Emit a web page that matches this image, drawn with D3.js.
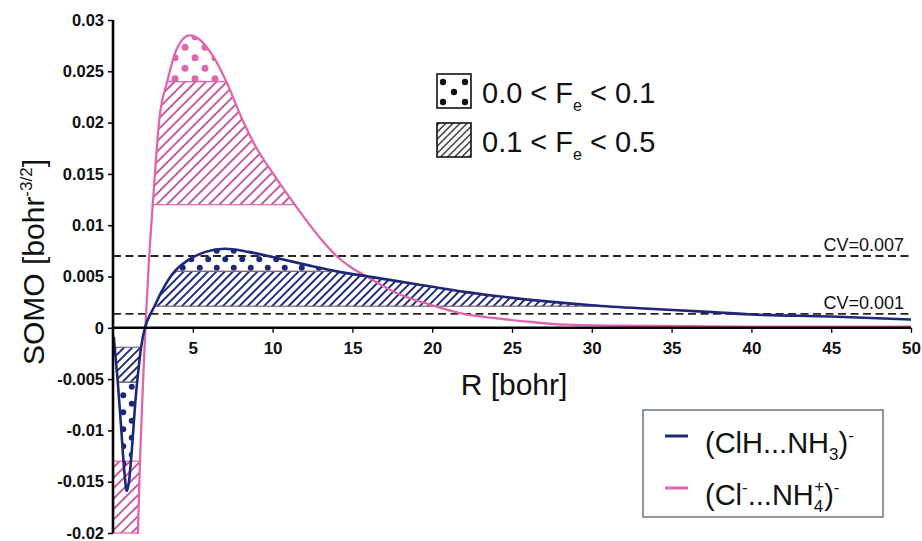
<!doctype html>
<html>
<head>
<meta charset="utf-8">
<title>SOMO plot</title>
<script src="https://cdn.jsdelivr.net/npm/d3@7"></script>
<style>
  body { margin: 0; background: #fff; }
  svg { font-family: "Liberation Sans", Arial, sans-serif; }
</style>
</head>
<body>
<div id="chart"></div>
<script>
// (ClH...NH3)- SOMO
var rBlue    = [0.05, 0.3, 0.5, 0.7, 0.86, 1.0, 1.2, 1.4, 1.6, 1.75, 2.0, 2.3, 2.6, 3.0, 3.7, 4.7, 5.8, 7.0, 8.5, 10, 12.5, 14, 16, 18, 20, 22, 24, 27, 30, 33, 36.7, 40, 45, 50];
var somoBlue = [-0.0009, -0.0053, -0.0095, -0.0138, -0.0159, -0.0150, -0.0115, -0.0072, -0.0040, -0.0020, 0.0, 0.0012, 0.0021, 0.0034, 0.0052, 0.0066, 0.0074, 0.0077, 0.0074, 0.0069, 0.0060, 0.0055, 0.0050, 0.0045, 0.0040, 0.0035, 0.0031, 0.0026, 0.0022, 0.0019, 0.0016, 0.0013, 0.0011, 0.0008];
// (Cl-...NH4+)- SOMO
var rPink    = [0, 1.3, 1.56, 1.69, 1.85, 2.03, 2.25, 2.5, 2.9, 3.4, 4.0, 4.8, 5.5, 6.3, 7.1, 8.1, 9.0, 10, 11.3, 12.1, 13, 14, 15, 15.9, 17.9, 20, 22.1, 24.2, 26, 28.4, 32, 40, 50];
var somoPink = [-0.05, -0.03, -0.02, -0.013, -0.0065, 0.0, 0.0065, 0.0122, 0.0203, 0.0240, 0.0272, 0.0285, 0.0280, 0.0264, 0.0240, 0.0203, 0.0175, 0.0151, 0.0122, 0.0105, 0.0087, 0.0070, 0.0058, 0.0050, 0.0033, 0.0022, 0.0013, 0.0009, 0.0006, 0.0003, 0.0002, 0.0001, 0.0001];

// Fe bands [lo, hi]
var fe01Blue = [[0.0055, 0.03], [-0.02, -0.0053]];   // 0.0 < Fe < 0.1
var fe05Blue = [[0.0021, 0.0055], [-0.0053, -0.0019]]; // 0.1 < Fe < 0.5
var fe01Pink = [[0.024, 0.03]];
var fe05Pink = [[0.012, 0.024], [-0.02, -0.013]];

var cvLevels = [0.007, 0.00135];
var cvLabels = ['CV=0.007', 'CV=0.001'];

var xTicks = [5, 10, 15, 20, 25, 30, 35, 40, 45, 50];
var yTicks = [-0.02, -0.015, -0.01, -0.005, 0, 0.005, 0.01, 0.015, 0.02, 0.025, 0.03];

var BLUE = '#1f2878', PINK = '#e065ad';

var W = 922, H = 541;
var x = d3.scaleLinear().domain([0, 50]).range([113, 911]);
var y = d3.scaleLinear().domain([-0.02, 0.03]).range([533, 20]);

var svg = d3.select('#chart').append('svg')
    .attr('width', W).attr('height', H)
    .style('background', '#fff');
var defs = svg.append('defs');

function hatch(id, color, gap, sw) {
    defs.append('pattern')
        .attr('id', id)
        .attr('patternUnits', 'userSpaceOnUse')
        .attr('width', gap).attr('height', gap)
        .attr('patternTransform', 'rotate(45)')
      .append('line')
        .attr('x1', gap / 2).attr('y1', -1)
        .attr('x2', gap / 2).attr('y2', gap + 1)
        .attr('stroke', color).attr('stroke-width', sw);
}
function dots(id, color, dx, dy, r) {
    var p = defs.append('pattern')
        .attr('id', id)
        .attr('patternUnits', 'userSpaceOnUse')
        .attr('width', dx).attr('height', dy * 2);
    p.append('circle').attr('cx', dx / 4).attr('cy', dy / 2).attr('r', r).attr('fill', color);
    p.append('circle').attr('cx', dx * 3 / 4).attr('cy', dy * 1.5).attr('r', r).attr('fill', color);
}
hatch('hatchBlue', BLUE, 5.8, 1.9);
hatch('hatchPink', '#c4509a', 7.4, 1.8);
hatch('hatchBlack', '#111', 5, 1.3);
dots('dotBlue', BLUE, 17, 8.5, 3.0);
dots('dotPink', PINK, 20, 10.5, 3.5);

defs.append('clipPath').attr('id', 'plotClip')
  .append('rect')
    .attr('x', x(0)).attr('y', y(0.03) - 2)
    .attr('width', x(50) - x(0) + 2).attr('height', y(-0.02) - y(0.03) + 3);

var lobe = d3.area()
    .x(function (d) { return x(d[0]); })
    .y0(y(0))
    .y1(function (d) { return y(d[1]); })
    .curve(d3.curveMonotoneX);
var line = d3.line()
    .x(function (d) { return x(d[0]); })
    .y(function (d) { return y(d[1]); })
    .curve(d3.curveMonotoneX);

var blueData = d3.zip(rBlue, somoBlue);
var pinkData = d3.zip(rPink, somoPink);

defs.append('clipPath').attr('id', 'lobeBlue').append('path').attr('d', lobe(blueData));
defs.append('clipPath').attr('id', 'lobePink').append('path').attr('d', lobe(pinkData));

function bands(list, clip, fill, edge) {
    svg.append('g').attr('clip-path', 'url(#plotClip)')
      .append('g').attr('clip-path', 'url(#' + clip + ')')
      .selectAll('rect').data(list).enter().append('rect')
        .attr('x', x(0))
        .attr('width', x(50) - x(0))
        .attr('y', function (d) { return y(d[1]); })
        .attr('height', function (d) { return y(d[0]) - y(d[1]); })
        .attr('fill', fill)
        .attr('stroke', edge)
        .attr('stroke-width', 1.2);
}
bands(fe05Pink, 'lobePink', 'url(#hatchPink)', PINK);
bands(fe01Pink, 'lobePink', 'url(#dotPink)', PINK);
bands(fe05Blue, 'lobeBlue', 'url(#hatchBlue)', '#7d6a78');
bands(fe01Blue, 'lobeBlue', 'url(#dotBlue)', '#7d6a78');

// CV dashed lines
svg.selectAll('.cv').data(cvLevels).enter().append('line')
    .attr('class', 'cv')
    .attr('x1', x(0)).attr('x2', x(50))
    .attr('y1', function (d) { return y(d); })
    .attr('y2', function (d) { return y(d); })
    .attr('stroke', '#2e2222')
    .attr('stroke-width', 1.8)
    .attr('stroke-dasharray', '8,4.5');
svg.selectAll('.cvlab').data(cvLabels).enter().append('text')
    .attr('class', 'cvlab')
    .attr('x', 904)
    .attr('y', function (d, i) { return y(cvLevels[i]) - 5; })
    .attr('text-anchor', 'end')
    .attr('font-size', 18)
    .attr('fill', '#111')
    .text(function (d) { return d; });

// curves
var curves = svg.append('g').attr('clip-path', 'url(#plotClip)');
curves.append('path').attr('d', line(pinkData))
    .attr('fill', 'none').attr('stroke', PINK).attr('stroke-width', 2.3);
curves.append('path').attr('d', line(blueData))
    .attr('fill', 'none').attr('stroke', BLUE).attr('stroke-width', 2.6);

// axes
var yAxis = svg.append('g')
    .attr('transform', 'translate(' + x(0) + ',0)')
    .call(d3.axisLeft(y).tickValues(yTicks).tickSize(5).tickPadding(4)
        .tickFormat(function (d) { return String(+d.toFixed(3)); }));
yAxis.select('.domain').remove();
yAxis.selectAll('line').attr('stroke', '#000').attr('stroke-width', 1.5);
yAxis.selectAll('text').attr('font-size', 16.5).attr('font-weight', 'bold')
    .attr('font-family', '"Liberation Sans", Arial, sans-serif').attr('fill', '#111');

var xAxis = svg.append('g')
    .attr('transform', 'translate(0,' + y(0) + ')')
    .call(d3.axisBottom(x).tickValues(xTicks).tickSize(5).tickPadding(9));
xAxis.select('.domain').remove();
xAxis.selectAll('line').attr('stroke', '#000').attr('stroke-width', 1.3);
xAxis.selectAll('text').attr('font-size', 17).attr('font-weight', 'bold')
    .attr('font-family', '"Liberation Sans", Arial, sans-serif').attr('fill', '#111');

svg.append('line')
    .attr('x1', x(0)).attr('x2', x(0))
    .attr('y1', y(0.03)).attr('y2', y(-0.02))
    .attr('stroke', '#000').attr('stroke-width', 2.6);
svg.append('line')
    .attr('x1', x(0)).attr('x2', x(50))
    .attr('y1', y(0)).attr('y2', y(0))
    .attr('stroke', '#000').attr('stroke-width', 2.6);

// axis titles
var yt = svg.append('text')
    .attr('transform', 'translate(44,262) rotate(-90)')
    .attr('text-anchor', 'middle')
    .attr('font-size', 30)
    .attr('fill', '#111');
yt.append('tspan').text('SOMO [bohr');
yt.append('tspan').attr('font-size', 17).attr('dy', -12).text('-3/2');
yt.append('tspan').attr('dy', 12).text(']');

svg.append('text')
    .attr('x', 514).attr('y', 395)
    .attr('text-anchor', 'middle')
    .attr('font-size', 30)
    .attr('fill', '#111')
    .text('R [bohr]');

// Fe legend
var feLabels = [['0.0 < F', 'e', ' < 0.1'], ['0.1 < F', 'e', ' < 0.5']];
var leg1 = svg.append('g');
leg1.append('rect').attr('x', 437).attr('y', 74).attr('width', 34).attr('height', 34)
    .attr('fill', '#fff').attr('stroke', '#111').attr('stroke-width', 1.6);
leg1.selectAll('circle').data([[6, 8], [28, 8], [17, 18], [6, 28], [28, 28]]).enter()
  .append('circle')
    .attr('cx', function (d) { return 437 + d[0]; })
    .attr('cy', function (d) { return 74 + d[1]; })
    .attr('r', 3.2).attr('fill', '#111');
leg1.append('rect').attr('x', 437).attr('y', 123).attr('width', 34).attr('height', 34)
    .attr('fill', 'url(#hatchBlack)').attr('stroke', '#111').attr('stroke-width', 1.6);
feLabels.forEach(function (t, i) {
    var tx = leg1.append('text')
        .attr('x', 482).attr('y', 103 + i * 49)
        .attr('font-size', 29).attr('fill', '#111');
    tx.append('tspan').text(t[0]);
    tx.append('tspan').attr('font-size', 16).attr('dy', 8).text(t[1]);
    tx.append('tspan').attr('dy', -8).text(t[2]);
});

// series legend
var leg2 = svg.append('g');
leg2.append('rect').attr('x', 643).attr('y', 410).attr('width', 240).attr('height', 107)
    .attr('fill', '#fff').attr('stroke', '#55606a').attr('stroke-width', 1.3);
leg2.append('line').attr('x1', 665).attr('x2', 688).attr('y1', 436).attr('y2', 436)
    .attr('stroke', BLUE).attr('stroke-width', 3);
leg2.append('line').attr('x1', 665).attr('x2', 688).attr('y1', 488).attr('y2', 488)
    .attr('stroke', PINK).attr('stroke-width', 3);
var s1 = leg2.append('text').attr('x', 705).attr('y', 453).attr('font-size', 29).attr('fill', '#111');
s1.append('tspan').text('(ClH...NH');
s1.append('tspan').attr('font-size', 17).attr('dy', 7).text('3');
s1.append('tspan').attr('dy', -7).text(')');
s1.append('tspan').attr('font-size', 17).attr('dy', -12).text('-');
var s2 = leg2.append('text').attr('x', 705).attr('y', 505).attr('font-size', 29).attr('fill', '#111');
s2.append('tspan').text('(Cl');
s2.append('tspan').attr('font-size', 17).attr('dy', -12).text('-');
s2.append('tspan').attr('dy', 12).text('...NH');
s2.append('tspan').attr('font-size', 17).attr('dy', 7).text('4');
s2.append('tspan').attr('font-size', 17).attr('dx', -9).attr('dy', -20).text('+');
s2.append('tspan').attr('dy', 13).text(')');
s2.append('tspan').attr('font-size', 17).attr('dy', -12).text('-');
</script>
</body>
</html>
